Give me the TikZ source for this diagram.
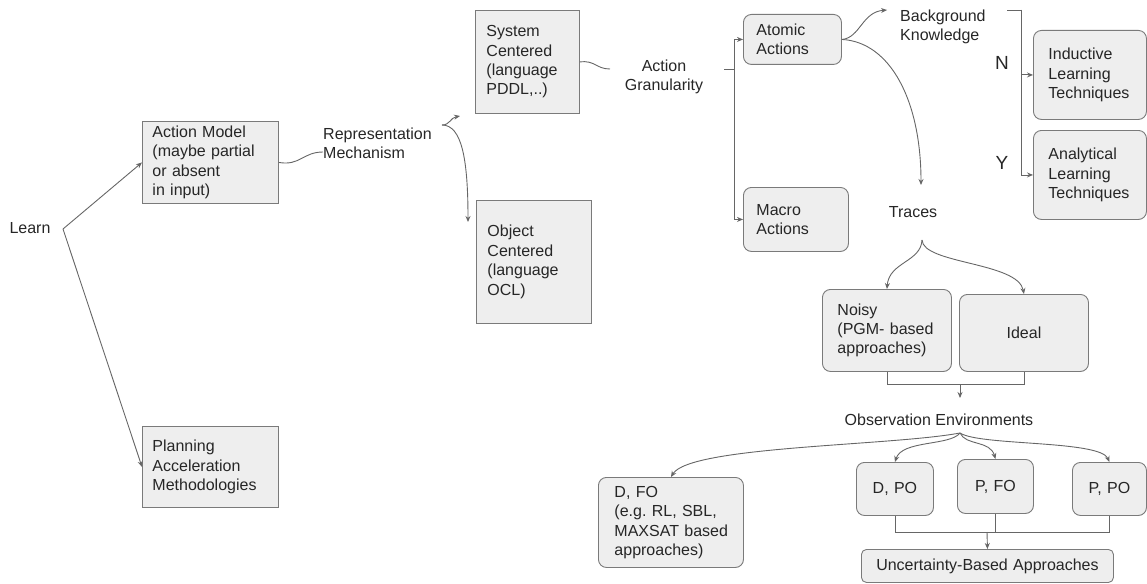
\documentclass[tikz,border=0pt]{standalone}
\usepackage{fontspec}
\setmainfont{Liberation Sans}
\usetikzlibrary{arrows.meta,calc}
\definecolor{lc}{HTML}{666666}
\definecolor{bc}{HTML}{7A7A7A}
\definecolor{bf}{HTML}{EEEEEE}
\definecolor{tc}{HTML}{262626}
\frenchspacing
\begin{document}
\begin{tikzpicture}[x=1pt,y=-1pt,
  every node/.style={font=\fontsize{16}{19.4}\selectfont\frenchspacing, text=tc},
  lbl/.style={inner sep=0pt},
  big/.style={lbl, font=\fontsize{19}{22}\selectfont},
  box/.style={draw=bc, line width=0.9pt, fill=bf, anchor=north west, inner ysep=0pt, align=left},
  rbox/.style={box, rounded corners=8pt},
  cbox/.style={rbox, align=center},
  conn/.style={draw=lc, line width=0.9pt},
  arr/.style={conn, -{Stealth[length=6pt,width=5pt]}},
]
\useasboundingbox (0,0) rectangle (1147,583);

% ---------- nodes ----------
\node[lbl] (learn) at (30,228) {Learn};

\node[box, minimum width=136pt, minimum height=82pt, text width=116pt, inner xsep=10pt] (am) at (142,121)
  {Action Model\\(maybe partial\\or absent\\in input)};
\node[box, minimum width=136pt, minimum height=81pt, text width=116pt, inner xsep=10pt] (pl) at (142,426)
  {Planning\\Acceleration\\Methodologies};

\node[lbl, anchor=west, align=left] (rep) at (323,143) {Representation\\Mechanism};

\node[box, minimum width=104pt, minimum height=103pt, text width=82pt, inner xsep=11pt] (sc) at (475,10)
  {System\\Centered\\(language\\PDDL,..)};
\node[box, minimum width=115pt, minimum height=123pt, text width=93pt, inner xsep=11pt] (oc) at (476,200)
  {Object\\Centered\\(language\\OCL)};

\node[lbl, align=center] (ag) at (664,77) {Action\\Granularity};

\node[rbox, minimum width=98pt, minimum height=50pt, text width=72pt, inner xsep=13pt] (aa) at (743,14)
  {Atomic\\Actions};
\node[rbox, minimum width=105pt, minimum height=64pt, text width=79pt, inner xsep=13pt] (ma) at (743,187)
  {Macro\\Actions};

\node[lbl, anchor=west, align=left] (bk) at (900,27) {Background\\Knowledge};
\node[big] (nn) at (1002,63) {N};
\node[big] (yy) at (1002,163) {Y};

\node[rbox, minimum width=113pt, minimum height=89pt, text width=87pt, inner xsep=13pt] (il) at (1033,30)
  {\hspace*{2pt}Inductive\\\hspace*{2pt}Learning\\\hspace*{2pt}Techniques};
\node[rbox, minimum width=113pt, minimum height=89pt, text width=87pt, inner xsep=13pt] (al) at (1033,130)
  {\hspace*{2pt}Analytical\\\hspace*{2pt}Learning\\\hspace*{2pt}Techniques};

\node[lbl] (traces) at (913,212) {Traces};

\node[rbox, minimum width=129pt, minimum height=82pt, text width=101pt, inner xsep=14pt] (noisy) at (822,289)
  {\hspace*{1pt}Noisy\\\hspace*{1pt}(PGM- based\\\hspace*{1pt}approaches)};
\node[cbox, minimum width=129pt, minimum height=77pt, text width=109pt, inner xsep=10pt] (ideal) at (959,294)
  {Ideal};

\node[lbl] (oe) at (939,420) {Observation Environments};

\node[rbox, minimum width=145pt, minimum height=90pt, text width=117pt, inner xsep=14pt] (dfo) at (598,477)
  {\hspace*{2pt}D, FO\\\hspace*{2pt}(e.g. RL, SBL,\\\hspace*{2pt}MAXSAT based\\\hspace*{2pt}approaches)};
\node[cbox, minimum width=77pt, minimum height=53pt, text width=67pt, inner xsep=5pt] (dpo) at (856,462) {D, PO};
\node[cbox, minimum width=76pt, minimum height=54pt, text width=66pt, inner xsep=5pt] (pfo) at (957,459) {P, FO};
\node[cbox, minimum width=74pt, minimum height=53pt, text width=64pt, inner xsep=5pt] (ppo) at (1072,462) {P, PO};
\node[cbox, rounded corners=5pt, minimum width=252pt, minimum height=33pt, text width=242pt, inner xsep=5pt] (unc) at (861,549)
  {Uncertainty-Based Approaches};

% ---------- helper coordinates (free ends) ----------
\coordinate (lv) at (63,229);
\coordinate (repin) at (323,152);
\coordinate (rf) at (442,125);
\coordinate (scin) at (460,116);
\coordinate (ocin) at (468,222);
\coordinate (agin) at (610,69);
\coordinate (agb) at (724,69);
\coordinate (agj) at (734,69);
\coordinate (bkin) at (887,10);
\coordinate (trin) at (921,185);
\coordinate (bkb) at (1007,10);
\coordinate (bkj) at (1021,10);
\coordinate (tf) at (922,240);
\coordinate (nij) at (960,384);
\coordinate (oein) at (960,398);
\coordinate (of) at (960,433);
\coordinate (ub) at (987,532);

% ---------- connectors ----------
\draw[arr] (lv) -- (am.west);
\draw[arr] (lv) -- (pl.west);

\draw[conn] (am.east) .. controls (300,166) and (303,152) .. (repin);

\draw[arr] (rf) .. controls (450,125) and (450,118) .. (scin);
\draw[arr] (rf) .. controls (462,125) and (468,160) .. (ocin);

\draw[conn] (sc.east) .. controls (595,60) and (596,69) .. (agin);

\draw[conn] (agb) -- (agj);
\draw[arr] (agj) |- (aa.west);
\draw[arr] (agj) |- (ma.west);

\draw[arr] (aa.east) .. controls (860,38) and (862,12) .. (bkin);
\draw[arr] (aa.east) .. controls (890,42) and (921,100) .. (trin);

\draw[conn] (bkb) -- (bkj);
\draw[arr] (bkj) |- (il.west);
\draw[arr] (bkj) |- (al.west);

\draw[arr] (tf) .. controls (921,262) and (889,262) .. (noisy.north);
\draw[arr] (tf) .. controls (923,264) and (1018,262) .. (ideal.north);

\draw[conn] (noisy.south) -- ++(0,13) -| (ideal.south);
\draw[arr] (nij) -- (oein);

\draw[arr] (of) .. controls (890,446) and (690,446) .. (dfo.north);
\draw[arr] (of) .. controls (950,446) and (902,440) .. (dpo.north);
\draw[arr] (of) .. controls (966,446) and (990,440) .. (pfo.north);
\draw[arr] (of) .. controls (980,446) and (1100,440) .. (ppo.north);

\draw[conn] (dpo.south) -- ++(0,17) -| (ppo.south);
\draw[conn] (pfo.south) -- (pfo.south |- ub);
\draw[arr] (ub) -- (unc.north);
\end{tikzpicture}
\end{document}
